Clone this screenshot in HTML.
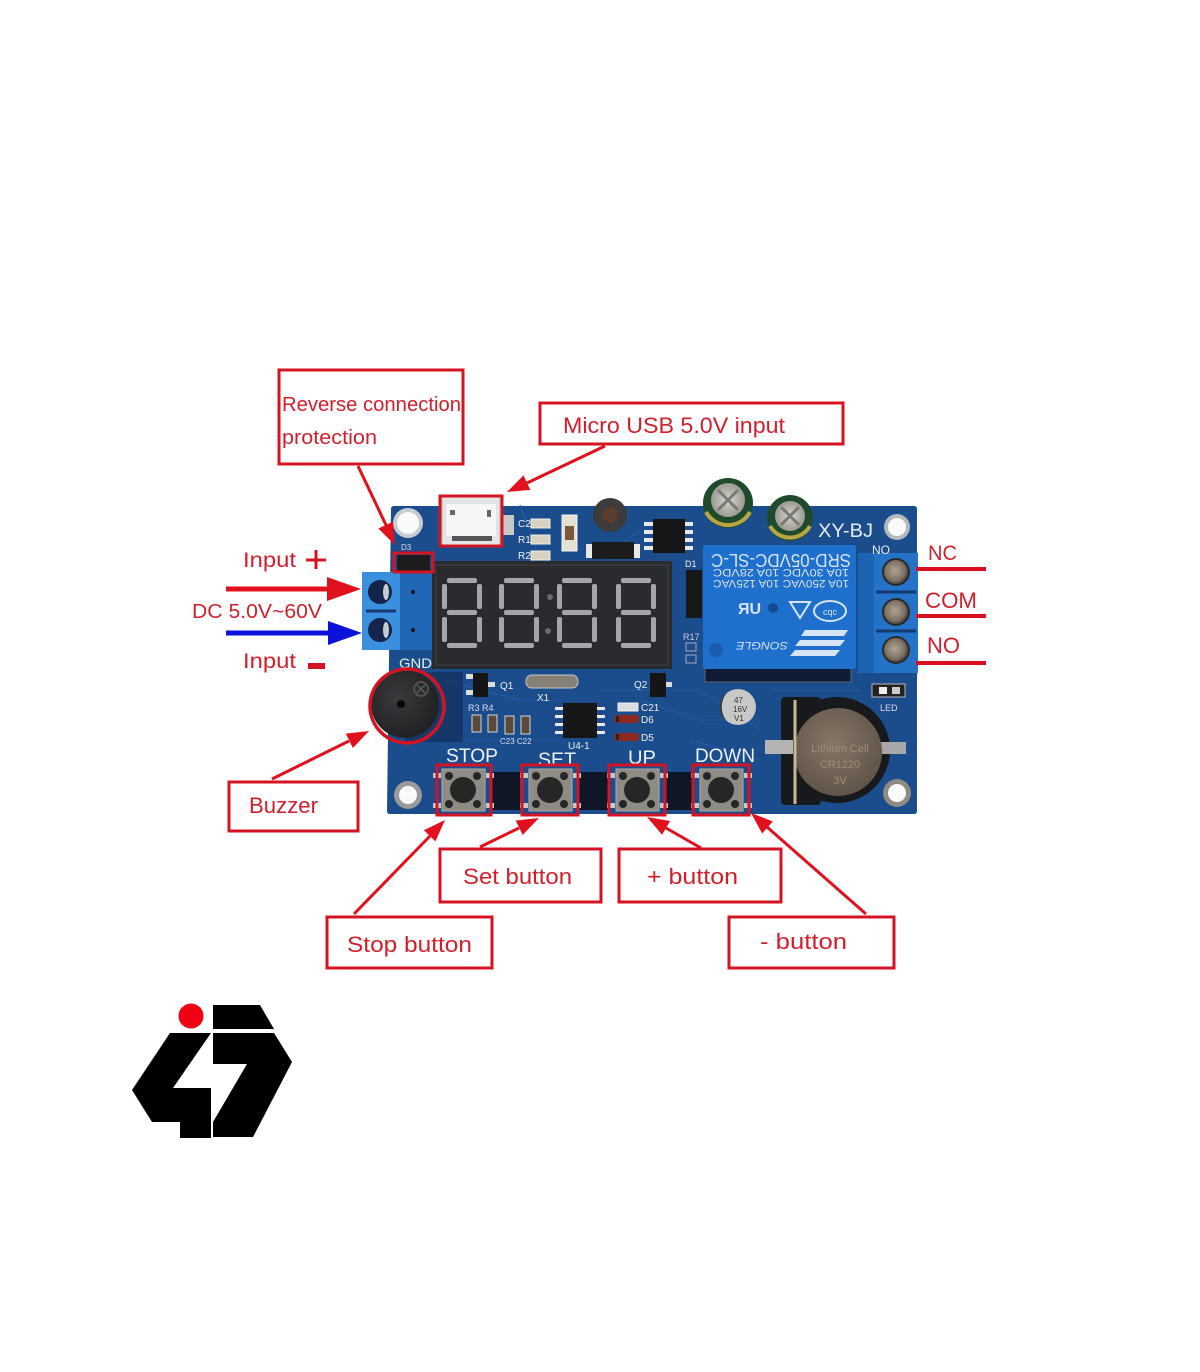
<!DOCTYPE html>
<html><head><meta charset="utf-8">
<style>
html,body{margin:0;padding:0;background:#fff;}
svg{display:block;}
text{font-family:"Liberation Sans",sans-serif;}
</style></head><body>
<svg width="1200" height="1372" viewBox="0 0 1200 1372" xmlns="http://www.w3.org/2000/svg">
<defs>
<radialGradient id="scr" cx="0.45" cy="0.45" r="0.6"><stop offset="0" stop-color="#b0a494"/><stop offset="0.7" stop-color="#7c7064"/><stop offset="1" stop-color="#3a342e"/></radialGradient>
<radialGradient id="coin" cx="0.45" cy="0.4" r="0.65"><stop offset="0" stop-color="#857767"/><stop offset="1" stop-color="#5e5246"/></radialGradient>
<radialGradient id="buz" cx="0.4" cy="0.4" r="0.7"><stop offset="0" stop-color="#3a3a3c"/><stop offset="1" stop-color="#1e1e20"/></radialGradient>
<radialGradient id="capt" cx="0.5" cy="0.5" r="0.6"><stop offset="0" stop-color="#d8d8d2"/><stop offset="1" stop-color="#8e8e86"/></radialGradient>
</defs>
<rect width="1200" height="1372" fill="#fff"/>

<!-- ===== PCB ===== -->
<path d="M394,506 H914 Q917,506 917,509 V811 Q917,814 914,814 H390 Q387,814 387,811 L391,509 Q391,506 394,506Z" fill="#1b4c8c"/>
<!-- traces texture -->
<g stroke="#2458a0" stroke-width="1.5" fill="none" opacity="0.8">
<path d="M440,680 L520,700 L560,700"/><path d="M600,690 L700,690 L760,730"/><path d="M460,740 H560"/>
<path d="M640,700 L700,720 H760"/><path d="M770,690 H860"/><path d="M600,560 L640,530"/><path d="M520,505 L540,560"/>
<path d="M860,700 L880,760"/><path d="M690,740 L760,760"/>
</g>
<!-- dark shade regions -->
<rect x="405" y="672" width="58" height="70" fill="#132c52" opacity="0.6"/>
<rect x="490" y="772" width="30" height="38" fill="#0f1626"/>
<rect x="577" y="772" width="32" height="38" fill="#0f1626"/>
<rect x="664" y="772" width="30" height="38" fill="#0f1626"/>

<!-- mounting holes -->
<circle cx="408" cy="523" r="15" fill="#c8ccd3"/><circle cx="408" cy="523" r="11" fill="#fafafa"/>
<circle cx="897" cy="527" r="13" fill="#b4b8be"/><circle cx="897" cy="527" r="9" fill="#fafafa"/>
<circle cx="408" cy="795" r="14" fill="#9a9a9a"/><circle cx="408" cy="795" r="9" fill="#fafafa"/>
<circle cx="897" cy="793" r="14" fill="#8f8a84"/><circle cx="897" cy="793" r="9" fill="#fafafa"/>

<!-- USB connector -->
<rect x="442" y="497" width="58" height="48" fill="#e4e4e6" stroke="#b8b8bc"/>
<rect x="446" y="504" width="50" height="32" fill="#f6f6f6"/>
<rect x="450" y="510" width="5" height="5" fill="#666"/><rect x="487" y="510" width="4" height="7" fill="#666"/>
<rect x="452" y="536" width="40" height="5" fill="#555"/>
<rect x="503" y="515" width="11" height="20" fill="#c8c8c8"/>
<!-- small SMDs near USB -->
<g fill="#f0f0f0" font-size="10"><text x="518" y="527">C2</text><text x="518" y="543">R1</text><text x="518" y="559">R2</text></g>
<rect x="531" y="519" width="19" height="9" fill="#d8d2c0" stroke="#eee"/>
<rect x="531" y="535" width="19" height="9" fill="#d8d2c0" stroke="#eee"/>
<rect x="531" y="551" width="19" height="9" fill="#d8d2c0" stroke="#eee"/>
<rect x="562" y="515" width="15" height="36" fill="#e4e0d4" stroke="#f4f4f4"/><rect x="565" y="526" width="9" height="14" fill="#7a5a3a"/>
<!-- inductor -->
<circle cx="610" cy="515" r="17" fill="#3c3c3c"/><circle cx="610" cy="515" r="8" fill="#5a3c30"/>
<!-- diode top -->
<rect x="586" y="544" width="8" height="14" fill="#e8e8e8"/><rect x="632" y="544" width="8" height="14" fill="#e8e8e8"/>
<rect x="592" y="542" width="42" height="17" fill="#1c1c1c"/>
<!-- IC top -->
<g fill="#e8e8e8"><rect x="644" y="522" width="9" height="4"/><rect x="644" y="530" width="9" height="4"/><rect x="644" y="538" width="9" height="4"/><rect x="644" y="546" width="9" height="4"/>
<rect x="685" y="522" width="8" height="4"/><rect x="685" y="530" width="8" height="4"/><rect x="685" y="538" width="8" height="4"/><rect x="685" y="546" width="8" height="4"/></g>
<rect x="653" y="519" width="32" height="34" fill="#161616"/>

<!-- caps -->
<circle cx="728" cy="503" r="25" fill="#1f4a2c"/><path d="M706,512 A25,25 0 0 0 750,512" fill="none" stroke="#b8a640" stroke-width="4"/>
<circle cx="728" cy="500" r="17" fill="url(#capt)"/><path d="M718,490 L738,510 M738,490 L718,510" stroke="#7a7a74" stroke-width="3"/>
<circle cx="790" cy="518" r="23" fill="#1f4a2c"/><path d="M770,526 A23,23 0 0 0 810,526" fill="none" stroke="#b8a640" stroke-width="4"/>
<circle cx="790" cy="516" r="15" fill="url(#capt)"/><path d="M781,507 L799,525 M799,507 L781,525" stroke="#7a7a74" stroke-width="3"/>

<text x="818" y="537" font-size="19" fill="#e6edf7" textLength="55" lengthAdjust="spacingAndGlyphs">XY-BJ</text>

<!-- D1 -->
<text x="685" y="567" font-size="9" fill="#eee">D1</text>
<rect x="686" y="570" width="16" height="48" fill="#181818"/>
<text x="683" y="640" font-size="9" fill="#ccd">R17</text>
<rect x="686" y="643" width="10" height="8" fill="none" stroke="#aab"/><rect x="686" y="655" width="10" height="8" fill="none" stroke="#aab"/>

<!-- relay -->
<rect x="705" y="666" width="146" height="16" fill="#101c34" stroke="#58687e"/>
<rect x="703" y="545" width="153" height="124" rx="2" fill="#1f6fcc"/>
<g fill="#d6e4f6">
<text x="781" y="566" font-size="18" text-anchor="middle" transform="rotate(180 781 560)" textLength="140" lengthAdjust="spacingAndGlyphs">SRD-05VDC-SL-C</text>
<text x="781" y="577" font-size="11" text-anchor="middle" transform="rotate(180 781 573)" textLength="136" lengthAdjust="spacingAndGlyphs">10A 30VDC 10A 28VDC</text>
<text x="781" y="588" font-size="11" text-anchor="middle" transform="rotate(180 781 584)" textLength="136" lengthAdjust="spacingAndGlyphs">10A 250VAC 10A 125VAC</text>
<text x="762" y="650" font-size="11" font-style="italic" text-anchor="middle" transform="rotate(180 762 646)" textLength="52" lengthAdjust="spacingAndGlyphs">SONGLE</text>
<text x="738" y="614" font-size="16" font-weight="bold">ЯU</text>
<path d="M790,602 L810,602 L800,618Z" fill="none" stroke="#d6e4f6" stroke-width="2"/>
<path d="M800,640 H845 L840,646 H795Z M795,650 H840 L835,656 H790Z M805,630 H848 L844,636 H801Z"/>
</g>
<ellipse cx="830" cy="611" rx="16" ry="10" fill="none" stroke="#d6e4f6" stroke-width="2"/>
<text x="830" y="615" font-size="9" fill="#d6e4f6" text-anchor="middle">cqc</text>
<circle cx="773" cy="608" r="5" fill="#154a94"/><circle cx="716" cy="650" r="7" fill="#1a5cb0"/>

<!-- right terminal -->
<rect x="858" y="553" width="60" height="120" fill="#2473c9"/>
<rect x="858" y="553" width="16" height="120" fill="#1d63b4"/>
<path d="M876,592 H916 M876,631 H916" stroke="#143a70" stroke-width="3"/>
<circle cx="896" cy="572" r="14" fill="#2a2a2a"/><circle cx="896" cy="572" r="12" fill="url(#scr)"/>
<circle cx="896" cy="612" r="14" fill="#2a2a2a"/><circle cx="896" cy="612" r="12" fill="url(#scr)"/>
<circle cx="896" cy="650" r="14" fill="#2a2a2a"/><circle cx="896" cy="650" r="12" fill="url(#scr)"/>
<text x="872" y="554" font-size="12" fill="#e6edf7">NO</text>

<!-- left terminal -->
<rect x="398" y="572" width="36" height="78" fill="#1f66b5"/>
<rect x="362" y="572" width="38" height="78" fill="#3a8fdf"/>
<path d="M366,611 H396" stroke="#1a3a70" stroke-width="3"/>
<circle cx="380" cy="592" r="12" fill="#14244a"/><ellipse cx="386" cy="592" rx="3" ry="8" fill="#c4ccd4"/>
<circle cx="380" cy="630" r="12" fill="#14244a"/><ellipse cx="386" cy="630" rx="3" ry="8" fill="#c4ccd4"/>
<circle cx="413" cy="592" r="2" fill="#111"/><circle cx="413" cy="630" r="2" fill="#111"/>

<!-- D3 -->
<text x="401" y="550" font-size="8" fill="#dde">D3</text>
<rect x="397" y="555" width="33" height="16" fill="#1c1c1c"/>

<!-- display -->
<rect x="432" y="561" width="240" height="108" fill="#2a2b2f"/>
<rect x="436" y="565" width="232" height="100" fill="none" stroke="#35363b" stroke-width="2"/>
<g fill="#a6a6aa">
<!-- digit 1 x0=442 -->
<rect x="447" y="578" width="30" height="5" rx="2"/><rect x="447" y="610" width="30" height="5" rx="2"/><rect x="447" y="643" width="30" height="5" rx="2"/>
<rect x="442" y="584" width="5" height="25" rx="2"/><rect x="477" y="584" width="5" height="25" rx="2"/><rect x="442" y="617" width="5" height="25" rx="2"/><rect x="477" y="617" width="5" height="25" rx="2"/>
<!-- digit 2 x0=499 -->
<rect x="504" y="578" width="30" height="5" rx="2"/><rect x="504" y="610" width="30" height="5" rx="2"/><rect x="504" y="643" width="30" height="5" rx="2"/>
<rect x="499" y="584" width="5" height="25" rx="2"/><rect x="534" y="584" width="5" height="25" rx="2"/><rect x="499" y="617" width="5" height="25" rx="2"/><rect x="534" y="617" width="5" height="25" rx="2"/>
<!-- digit 3 x0=557 -->
<rect x="562" y="578" width="30" height="5" rx="2"/><rect x="562" y="610" width="30" height="5" rx="2"/><rect x="562" y="643" width="30" height="5" rx="2"/>
<rect x="557" y="584" width="5" height="25" rx="2"/><rect x="592" y="584" width="5" height="25" rx="2"/><rect x="557" y="617" width="5" height="25" rx="2"/><rect x="592" y="617" width="5" height="25" rx="2"/>
<!-- digit 4 x0=616 -->
<rect x="621" y="578" width="30" height="5" rx="2"/><rect x="621" y="610" width="30" height="5" rx="2"/><rect x="621" y="643" width="30" height="5" rx="2"/>
<rect x="616" y="584" width="5" height="25" rx="2"/><rect x="651" y="584" width="5" height="25" rx="2"/><rect x="616" y="617" width="5" height="25" rx="2"/><rect x="651" y="617" width="5" height="25" rx="2"/>
</g>
<circle cx="550" cy="597" r="3" fill="#6a6a6e"/><circle cx="548" cy="631" r="3" fill="#6a6a6e"/>

<text x="399" y="668" font-size="14" fill="#e6edf7" textLength="33" lengthAdjust="spacingAndGlyphs">GND</text>

<!-- Q1, X1, Q2 -->
<rect x="466" y="674" width="8" height="5" fill="#ddd"/><rect x="466" y="690" width="8" height="5" fill="#ddd"/><rect x="488" y="682" width="7" height="5" fill="#ddd"/>
<rect x="473" y="673" width="15" height="24" fill="#151515"/>
<text x="500" y="689" font-size="10" fill="#eee">Q1</text>
<rect x="526" y="675" width="52" height="13" rx="6" fill="#857f76" stroke="#c8c8c8"/>
<text x="537" y="701" font-size="10" fill="#eee">X1</text>
<rect x="650" y="673" width="16" height="24" fill="#151515"/><rect x="666" y="682" width="6" height="5" fill="#ddd"/>
<text x="634" y="688" font-size="10" fill="#eee">Q2</text>
<!-- R3 R4 etc -->
<text x="468" y="711" font-size="9" fill="#dde">R3 R4</text>
<g fill="#5a4a3a" stroke="#d8d8d8" stroke-width="1">
<rect x="472" y="715" width="9" height="17"/><rect x="488" y="715" width="9" height="17"/><rect x="505" y="716" width="9" height="18"/><rect x="521" y="716" width="9" height="18"/>
</g>
<text x="500" y="744" font-size="8" fill="#dde">C23 C22</text>
<!-- U4-1 -->
<g fill="#e8e8e8"><rect x="555" y="707" width="9" height="3"/><rect x="555" y="715" width="9" height="3"/><rect x="555" y="723" width="9" height="3"/><rect x="555" y="731" width="9" height="3"/>
<rect x="596" y="707" width="9" height="3"/><rect x="596" y="715" width="9" height="3"/><rect x="596" y="723" width="9" height="3"/><rect x="596" y="731" width="9" height="3"/></g>
<rect x="563" y="703" width="34" height="35" fill="#161616"/>
<text x="568" y="749" font-size="10" fill="#eee">U4-1</text>
<rect x="618" y="703" width="20" height="8" fill="#ddd" stroke="#eee"/><text x="641" y="711" font-size="10" fill="#eee">C21</text>
<rect x="614" y="715" width="25" height="8" rx="3" fill="#8e2a22"/><rect x="616" y="716" width="3" height="6" fill="#222"/><text x="641" y="723" font-size="10" fill="#eee">D6</text>
<rect x="614" y="733" width="25" height="8" rx="3" fill="#8e2a22"/><rect x="616" y="734" width="3" height="6" fill="#222"/><text x="641" y="741" font-size="10" fill="#eee">D5</text>

<!-- 47 cap -->
<circle cx="738" cy="707" r="18" fill="#c8c8c6"/><path d="M728,692 A18,18 0 0 0 728,722 A14,18 0 0 1 728,692Z" fill="#333"/>
<rect x="722" y="704" width="6" height="4" fill="#c8c8c6"/>
<g fill="#333" font-size="8"><text x="734" y="703">47</text><text x="733" y="712">16V</text><text x="734" y="721">V1</text></g>

<!-- coin cell -->
<circle cx="837" cy="750" r="53" fill="#17191c"/>
<rect x="781" y="697" width="40" height="108" rx="4" fill="#17191c"/>
<rect x="765" y="740" width="28" height="14" fill="#b4b4b4"/><rect x="879" y="742" width="27" height="12" fill="#a8a8a8"/>
<circle cx="838" cy="752" r="44" fill="url(#coin)"/>
<line x1="795" y1="700" x2="795" y2="804" stroke="#c8b898" stroke-width="3"/>
<g fill="#9a8c7a" font-size="11" text-anchor="middle"><text x="840" y="752">Lithium Cell</text><text x="840" y="768">CR1220</text><text x="840" y="784">3V</text></g>
<!-- LED -->
<rect x="872" y="684" width="33" height="13" fill="#222" stroke="#bbb"/><rect x="879" y="687" width="8" height="7" fill="#eee"/><rect x="892" y="687" width="8" height="7" fill="#ccc"/>
<text x="880" y="711" font-size="9" fill="#dde">LED</text>

<!-- buzzer -->
<circle cx="405" cy="704" r="34" fill="url(#buz)"/>
<circle cx="401" cy="704" r="4" fill="#080808"/>
<circle cx="421" cy="689" r="7" fill="none" stroke="#5a5a5a" stroke-width="1.5"/>
<path d="M417,685 L425,693 M425,685 L417,693" stroke="#5a5a5a" stroke-width="1.5"/>

<!-- board labels -->
<g fill="#eef2f8" font-size="19">
<text x="446" y="762" textLength="52" lengthAdjust="spacingAndGlyphs">STOP</text>
<text x="538" y="766" textLength="38" lengthAdjust="spacingAndGlyphs">SET</text>
<text x="628" y="764" textLength="28" lengthAdjust="spacingAndGlyphs">UP</text>
<text x="695" y="762" textLength="60" lengthAdjust="spacingAndGlyphs">DOWN</text>
</g>

<!-- buttons -->
<g>
<g fill="#c8c8c8">
<rect x="433" y="773" width="8" height="5"/><rect x="486" y="773" width="8" height="5"/><rect x="433" y="803" width="8" height="5"/><rect x="486" y="803" width="8" height="5"/>
<rect x="520" y="773" width="8" height="5"/><rect x="573" y="773" width="8" height="5"/><rect x="520" y="803" width="8" height="5"/><rect x="573" y="803" width="8" height="5"/>
<rect x="607" y="773" width="8" height="5"/><rect x="660" y="773" width="8" height="5"/><rect x="607" y="803" width="8" height="5"/><rect x="660" y="803" width="8" height="5"/>
<rect x="691" y="773" width="8" height="5"/><rect x="744" y="773" width="8" height="5"/><rect x="691" y="803" width="8" height="5"/><rect x="744" y="803" width="8" height="5"/>
</g>
<rect x="442" y="769" width="43" height="42" fill="#8e8a84" stroke="#b0aca6"/>
<rect x="529" y="769" width="43" height="42" fill="#8e8a84" stroke="#b0aca6"/>
<rect x="616" y="769" width="43" height="42" fill="#8e8a84" stroke="#b0aca6"/>
<rect x="700" y="769" width="43" height="42" fill="#8e8a84" stroke="#b0aca6"/>
<g fill="#262626">
<circle cx="463" cy="790" r="13"/><circle cx="550" cy="790" r="13"/><circle cx="637" cy="790" r="13"/><circle cx="721" cy="790" r="13"/>
<circle cx="449" cy="776" r="4"/><circle cx="477" cy="776" r="4"/><circle cx="449" cy="804" r="4"/><circle cx="477" cy="804" r="4"/>
<circle cx="536" cy="776" r="4"/><circle cx="564" cy="776" r="4"/><circle cx="536" cy="804" r="4"/><circle cx="564" cy="804" r="4"/>
<circle cx="623" cy="776" r="4"/><circle cx="651" cy="776" r="4"/><circle cx="623" cy="804" r="4"/><circle cx="651" cy="804" r="4"/>
<circle cx="707" cy="776" r="4"/><circle cx="735" cy="776" r="4"/><circle cx="707" cy="804" r="4"/><circle cx="735" cy="804" r="4"/>
</g>
</g>

<!-- ===== ANNOTATIONS ===== -->
<g fill="none" stroke="#d41422" stroke-width="3">
<rect x="437" y="765" width="54" height="50"/>
<rect x="522" y="765" width="56" height="50"/>
<rect x="609" y="765" width="56" height="50"/>
<rect x="693" y="765" width="56" height="50"/>
<rect x="440" y="496" width="62" height="50"/>
<rect x="394" y="553" width="39" height="19"/>
<circle cx="407" cy="706" r="37" stroke-width="3.5"/>
</g>

<!-- label boxes -->
<g fill="#fff" stroke="#d41422" stroke-width="3">
<rect x="279" y="370" width="184" height="94"/>
<rect x="540" y="403" width="303" height="41"/>
<rect x="229" y="782" width="129" height="49"/>
<rect x="327" y="917" width="165" height="51"/>
<rect x="440" y="849" width="161" height="53"/>
<rect x="619" y="849" width="162" height="53"/>
<rect x="729" y="917" width="165" height="51"/>
</g>

<!-- connector lines -->
<g stroke="#e0101c" stroke-width="3" fill="none">
<line x1="358" y1="466" x2="386" y2="525"/>
<line x1="605" y1="446" x2="527" y2="483"/>
<line x1="272" y1="779" x2="349" y2="741"/>
<line x1="354" y1="914" x2="430" y2="836"/>
<line x1="480" y1="847" x2="519" y2="828"/>
<line x1="701" y1="848" x2="666" y2="828"/>
<line x1="866" y1="914" x2="767" y2="827"/>
</g>
<g fill="#e0101c">
<polygon points="395,545 378.4,528.5 392.9,521.7"/>
<polygon points="507,492 523.5,475.4 530.3,489.9"/>
<polygon points="369,731 352.9,748 345.8,733.6"/>
<polygon points="445,820 435.4,841.4 423.9,830.2"/>
<polygon points="539,818 522.7,834.9 515.7,820.5"/>
<polygon points="647,817 670.1,821 662.1,834.8"/>
<polygon points="751,813 772.8,821.5 762.2,833.5"/>
</g>

<!-- input arrows -->
<line x1="226" y1="589" x2="330" y2="589" stroke="#e0101c" stroke-width="5"/>
<polygon points="361,589 327,577 327,601" fill="#e0101c"/>
<line x1="226" y1="633" x2="330" y2="633" stroke="#0a12dc" stroke-width="5"/>
<polygon points="362,633 328,621 328,645" fill="#0a12dc"/>
<!-- plus / minus -->
<path d="M306,560 H326 M316,550 V569" stroke="#d41422" stroke-width="3"/>
<rect x="308" y="663" width="17" height="6" fill="#d41422"/>

<!-- NC COM NO lines -->
<g stroke="#d81020" stroke-width="4">
<line x1="916" y1="569" x2="986" y2="569"/>
<line x1="916" y1="616" x2="986" y2="616"/>
<line x1="916" y1="663" x2="986" y2="663"/>
</g>

<!-- label texts -->
<g fill="#d21f2b">
<text x="282" y="411" font-size="20" textLength="179" lengthAdjust="spacingAndGlyphs">Reverse connection</text>
<text x="282" y="444" font-size="20" textLength="95" lengthAdjust="spacingAndGlyphs">protection</text>
<text x="563" y="433" font-size="22" textLength="222" lengthAdjust="spacingAndGlyphs">Micro USB 5.0V input</text>
<text x="243" y="567" font-size="21" textLength="53" lengthAdjust="spacingAndGlyphs">Input</text>
<text x="192" y="618" font-size="20" textLength="130" lengthAdjust="spacingAndGlyphs">DC 5.0V~60V</text>
<text x="243" y="668" font-size="21" textLength="53" lengthAdjust="spacingAndGlyphs">Input</text>
<text x="928" y="560" font-size="21" textLength="29" lengthAdjust="spacingAndGlyphs">NC</text>
<text x="925" y="608" font-size="22" textLength="52" lengthAdjust="spacingAndGlyphs">COM</text>
<text x="927" y="653" font-size="22" textLength="33" lengthAdjust="spacingAndGlyphs">NO</text>
<text x="249" y="813" font-size="22" textLength="69" lengthAdjust="spacingAndGlyphs">Buzzer</text>
<text x="347" y="952" font-size="22" textLength="125" lengthAdjust="spacingAndGlyphs">Stop button</text>
<text x="463" y="884" font-size="22" textLength="109" lengthAdjust="spacingAndGlyphs">Set button</text>
<text x="647" y="884" font-size="22" textLength="91" lengthAdjust="spacingAndGlyphs">+ button</text>
<text x="760" y="949" font-size="22" textLength="87" lengthAdjust="spacingAndGlyphs">- button</text>
</g>

<!-- ===== LOGO ===== -->
<circle cx="191" cy="1016" r="12.5" fill="#f00010"/>
<polygon points="213,1005 260,1005 274,1029 213,1029" fill="#000"/>
<polygon points="170,1033 211,1033 173,1088 211,1088 211,1138 180,1138 180,1122 152,1122 132,1090" fill="#000"/>
<polygon points="213,1033 274,1033 292,1062 253,1137 213,1137 213,1122 247,1064 213,1064" fill="#000"/>
</svg>
</body></html>
